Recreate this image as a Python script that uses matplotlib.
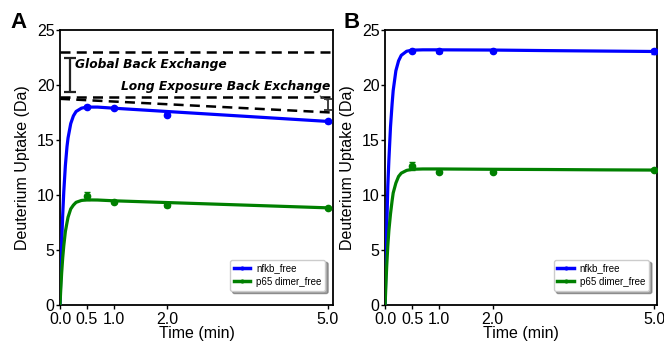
import matplotlib
matplotlib.use("Agg")
import matplotlib.pyplot as plt
from matplotlib.lines import Line2D

plt.rcParams['font.family'] = ['Liberation Sans', 'DejaVu Sans']

# ---------------- data ----------------
time_points = [0.5, 1.0, 2.0, 5.0]
xtick_vals = [0.0, 0.5, 1.0, 2.0, 5.0]
xtick_labels = ['0.0', '0.5', '1.0', '2.0', '5.0']
ytick_vals = [0, 5, 10, 15, 20, 25]

# Panel A measured points
a_nfkb = [18.05, 17.95, 17.3, 16.7]
a_nfkb_err = [0.1, 0.1, 0.15, 0.15]
a_p65 = [9.9, 9.4, 9.1, 8.85]
a_p65_err = [0.35, 0.1, 0.15, 0.1]

# Panel B measured points
b_nfkb = [23.1, 23.05, 23.1, 23.05]
b_nfkb_err = [0.1, 0.1, 0.1, 0.25]
b_p65 = [12.65, 12.1, 12.1, 12.3]
b_p65_err = [0.4, 0.1, 0.1, 0.1]

# fitted curves
fit_t = [0.0, 0.01, 0.02, 0.03, 0.05, 0.07, 0.1, 0.13, 0.15, 0.2, 0.25, 0.3, 0.4, 0.5, 0.7, 1.0, 2.0, 3.0, 4.0, 5.0]
a_nfkb_fit = [0.0, 2.0, 3.9, 5.6, 8.2, 10.3, 12.7, 14.4, 15.2, 16.5, 17.2, 17.6, 17.9, 18.0, 18.0, 17.9, 17.6, 17.3, 17.0, 16.7]
a_p65_fit = [0.0, 1.1, 2.0, 2.9, 4.3, 5.4, 6.7, 7.5, 8.0, 8.75, 9.1, 9.35, 9.52, 9.57, 9.56, 9.49, 9.33, 9.17, 9.01, 8.85]
b_nfkb_fit = [0.0, 2.5, 4.8, 7.0, 10.8, 13.2, 16.2, 18.3, 19.5, 21.3, 22.2, 22.7, 23.07, 23.17, 23.2, 23.2, 23.18, 23.13, 23.09, 23.05]
b_p65_fit = [0.0, 1.3, 2.5, 3.6, 5.4, 6.8, 8.3, 9.5, 10.2, 11.1, 11.7, 12.0, 12.25, 12.35, 12.38, 12.38, 12.35, 12.33, 12.3, 12.28]

# back-exchange reference levels (panel A)
global_level = 23.0
long_level = 18.9
sloped_x = [0.0, 5.1]
sloped_y = [18.75, 17.5]
global_bar = [19.4, 22.5]
long_bar = [17.7, 18.7]

series_names = ['nfkb_free', 'p65 dimer_free']
colors = ['#0000ff', '#008000']

# ---------------- figure ----------------
fig = plt.figure(figsize=(6.64, 3.43), dpi=100)
axA = fig.add_axes([0.0904, 0.11, 0.411, 0.8025])
axB = fig.add_axes([0.580, 0.11, 0.409, 0.8025])


def style_axis(ax, xmax):
    ax.set_xlim(0, xmax)
    ax.set_ylim(0, 25)
    ax.set_xticks(xtick_vals)
    ax.set_xticklabels(xtick_labels)
    ax.set_yticks(ytick_vals)
    ax.tick_params(labelsize=11.5, length=3, width=1)
    ax.tick_params(axis='x', pad=2)
    ax.tick_params(axis='y', pad=1)
    for s in ax.spines.values():
        s.set_linewidth(1.3)
    ax.set_xlabel('Time (min)', fontsize=11.5, labelpad=-1)
    ax.set_ylabel('Deuterium Uptake (Da)', fontsize=11.5, labelpad=5)


def draw_series(ax, fits, pts, errs):
    for fit, p, e, c in zip(fits, pts, errs, colors):
        ax.plot(fit_t, fit, color=c, lw=2.3, zorder=3)
        ax.errorbar(time_points, p, yerr=e, fmt='o', color=c, ms=4.5,
                    capsize=2.5, elinewidth=1.2, zorder=4)
    handles = [Line2D([0], [0], color=c, lw=2.5, marker='.', ms=4) for c in colors]
    leg = ax.legend(handles, series_names, loc='lower right', fontsize=7,
                    frameon=True, shadow=True, fancybox=True,
                    handlelength=1.7, handletextpad=0.6, borderpad=0.4,
                    labelspacing=0.35, bbox_to_anchor=(0.99, 0.035))
    leg.get_frame().set_edgecolor('#cccccc')


style_axis(axA, 5.1)
style_axis(axB, 5.05)

draw_series(axA, [a_nfkb_fit, a_p65_fit], [a_nfkb, a_p65], [a_nfkb_err, a_p65_err])
draw_series(axB, [b_nfkb_fit, b_p65_fit], [b_nfkb, b_p65], [b_nfkb_err, b_p65_err])

# back exchange annotations on panel A
dash = (0, (4, 2.5))
axA.axhline(global_level, color='black', lw=1.8, linestyle=dash, zorder=2)
axA.axhline(long_level, color='black', lw=1.8, linestyle=dash, zorder=2)
axA.plot(sloped_x, sloped_y, color='black', lw=1.8, linestyle=dash, zorder=2)

axA.errorbar([0.19], [sum(global_bar) / 2], yerr=[(global_bar[1] - global_bar[0]) / 2],
             fmt='none', ecolor='#222222', elinewidth=1.6, capsize=4, capthick=1.6)
axA.errorbar([5.0], [sum(long_bar) / 2], yerr=[(long_bar[1] - long_bar[0]) / 2],
             fmt='none', ecolor='#333333', elinewidth=1.3, capsize=3, capthick=1.3)

axA.text(0.28, 21.85, 'Global Back Exchange', fontsize=8.8, fontweight='bold',
         fontstyle='italic', family='DejaVu Sans', va='center', ha='left')
axA.annotate('Long Exposure Back Exchange', xy=(5.0, 18.6), xytext=(5.05, 19.85),
             fontsize=8.8, fontweight='bold', fontstyle='italic', family='DejaVu Sans',
             va='center', ha='right',
             arrowprops=dict(arrowstyle='-', color='#444444', lw=0.8,
                             shrinkA=0, shrinkB=0, relpos=(0.93, 0.0)))

fig.text(0.028, 0.935, 'A', fontsize=16, fontweight='bold', ha='center', va='center')
fig.text(0.530, 0.935, 'B', fontsize=16, fontweight='bold', ha='center', va='center')

fig.savefig('out.png', dpi=100)
